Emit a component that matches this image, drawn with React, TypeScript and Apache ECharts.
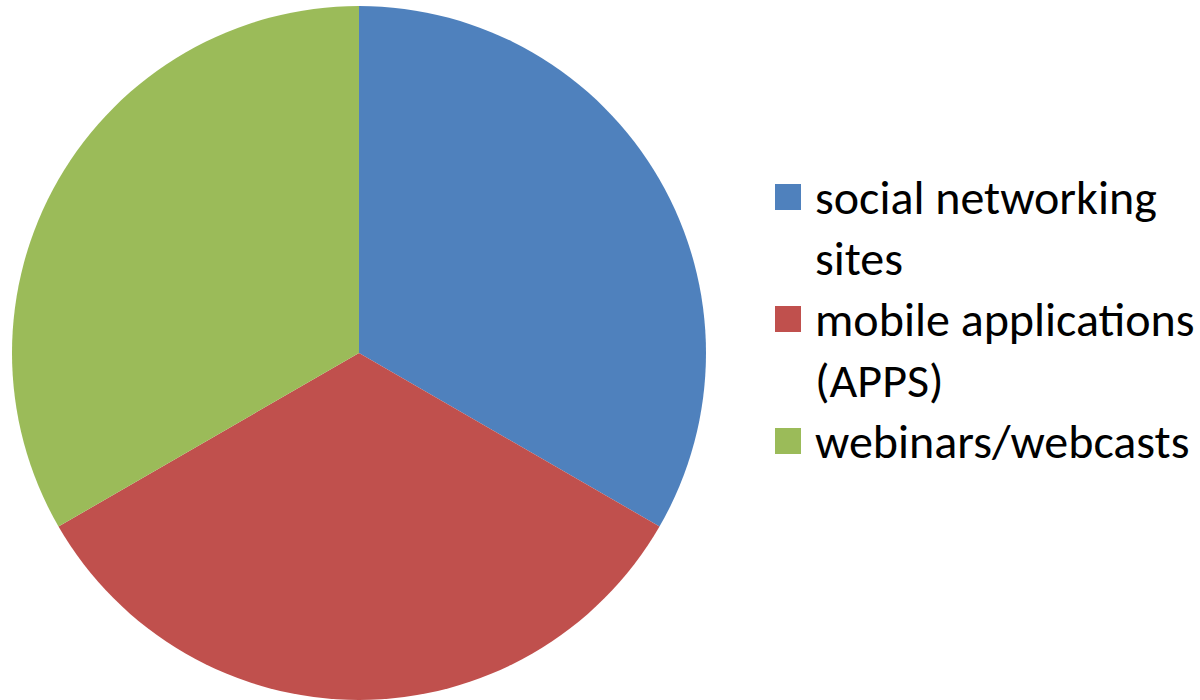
import React, { useEffect, useRef } from "react";
import * as echarts from "echarts";

const categories = ["social networking sites", "mobile applications (APPS)", "webinars/webcasts"];
const legendLines = [["social networking", "sites"], ["mobile applications", "(APPS)"], ["webinars/webcasts"]];
const values = [1, 1, 1];
const colors = ["#4F81BD", "#C0504D", "#9BBB59"];

export default function App() {
  const ref = useRef<HTMLDivElement>(null);
  useEffect(() => {
    if (!ref.current) return;
    const chart = echarts.init(ref.current, null, { renderer: "svg" });
    const LH = 61;
    chart.setOption({
      animation: false,
      color: colors,
      legend: {
        orient: "vertical",
        left: 775,
        top: 166.5 - LH,
        padding: 0,
        itemWidth: 26,
        itemHeight: 26,
        itemGap: -LH,
        icon: "rect",
        selectedMode: false,
        formatter: (name: string) => {
          const lines = legendLines[categories.indexOf(name)];
          const body = lines.map((l) => "{a|" + l + "}").join("\n");
          // blank line above (and below for single line) keeps the marker on the first line
          return lines.length === 1 ? "{a| }\n" + body + "\n{a| }" : "{a| }\n" + body;
        },
        textStyle: {
          fontFamily: "Carlito, Lato, sans-serif",
          fontSize: 48,
          lineHeight: LH,
          color: "#000",
          rich: {
            a: {
              fontFamily: "Carlito, Lato, sans-serif",
              fontSize: 48,
              lineHeight: LH,
              color: "#000",
              padding: [0, 0, 0, 9],
            },
          },
        },
        data: categories,
      },
      series: [
        {
          type: "pie",
          center: [359, 353],
          radius: 347,
          startAngle: 90,
          clockwise: true,
          label: { show: false },
          labelLine: { show: false },
          emphasis: { disabled: true },
          data: categories.map((name, i) => ({ name, value: values[i] })),
        },
      ],
    });
    return () => chart.dispose();
  }, []);
  return (
    <div
      ref={ref}
      style={{ position: "fixed", left: 0, top: 0, width: 1200, height: 700, background: "#fff" }}
    />
  );
}
